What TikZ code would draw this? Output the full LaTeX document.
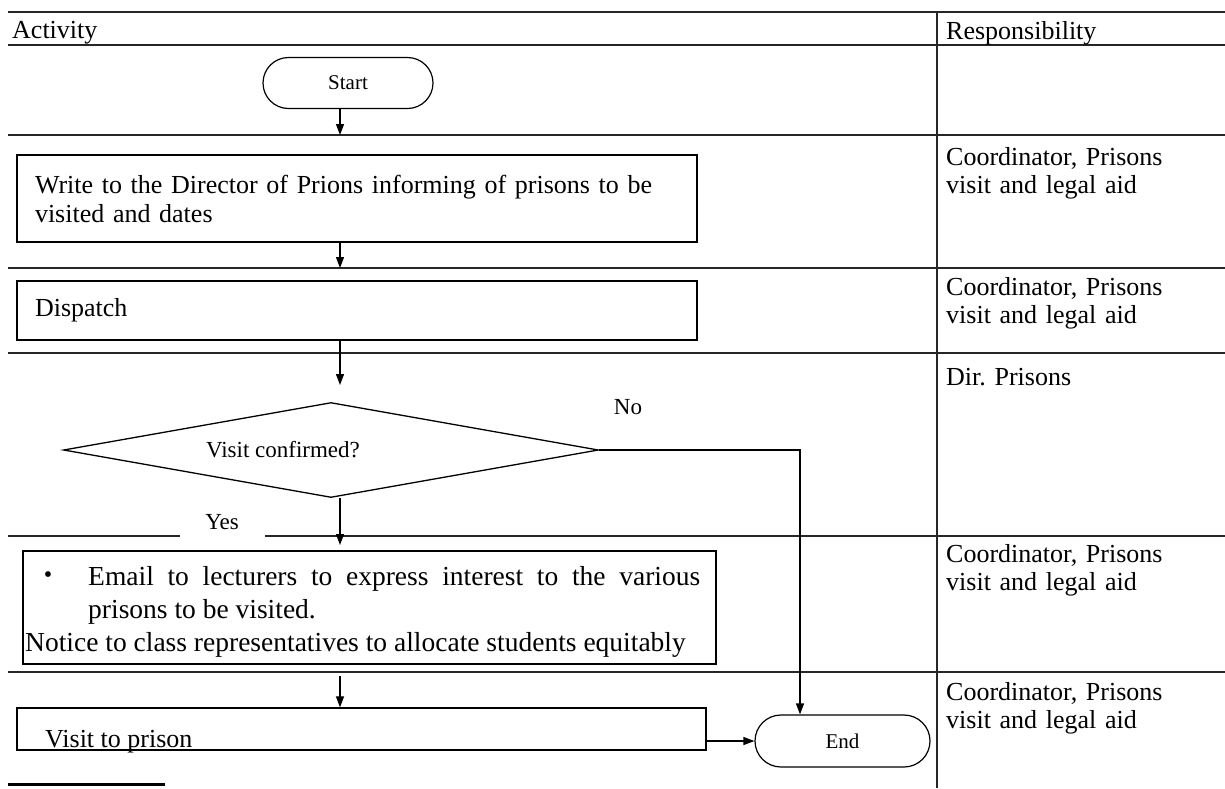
\documentclass[tikz,border=0pt]{standalone}
\usepackage{fontspec}
\setmainfont{Liberation Serif}
\usetikzlibrary{arrows.meta,shapes.geometric,shapes.misc}
\frenchspacing
\begin{document}
\begin{tikzpicture}[x=1pt,y=-1pt,
  every node/.style={font=\fontsize{26}{29}\selectfont, inner sep=0pt},
  grid/.style={line width=1.3pt, draw=black!85},
  box/.style={draw, line width=1.3pt, rectangle, align=left, inner xsep=18pt},
  term/.style={draw, line width=1.2pt, rounded rectangle, minimum width=170pt, minimum height=51pt, font=\fontsize{21}{24}\selectfont},
  arr/.style={line width=1.2pt, -{Triangle[length=11pt,width=8pt]}},
  resp/.style={anchor=base west, text width=270pt, align=left, font=\fontsize{26}{28}\selectfont},
  small/.style={font=\fontsize{23}{26}\selectfont},
  big/.style={font=\fontsize{27.5}{33}\selectfont}
]
\useasboundingbox (0,0) rectangle (1225,788);
% table grid
\draw[grid] (8,12) -- (1225,12);
\draw[grid] (8,45) -- (1225,45);
\draw[grid] (8,135) -- (1225,135);
\draw[grid] (8,268) -- (1225,268);
\draw[grid] (8,353) -- (1225,353);
\draw[grid] (8,536) -- (180,536);
\draw[grid] (265,536) -- (1225,536);
\draw[grid] (8,672) -- (1225,672);
\draw[grid] (937,12) -- (937,788);
\draw[line width=3pt] (8,784) -- (165,784);
% headers
\node[anchor=base west] (hact) at (12,38) {Activity};
\node[anchor=base west] (hresp) at (946,39) {Responsibility};
% responsibilities
\node[resp] (resp1) at (946,165) {Coordinator, Prisons\\visit and legal aid};
\node[resp] (resp2) at (946,295) {Coordinator, Prisons\\visit and legal aid};
\node[resp] (resp3) at (946,385) {Dir. Prisons};
\node[resp] (resp4) at (946,562) {Coordinator, Prisons\\visit and legal aid};
\node[resp] (resp5) at (946,700) {Coordinator, Prisons\\visit and legal aid};
% flow nodes
\node[term] (start) at (348,83) {Start};
\node[box, minimum width=680pt, minimum height=87pt, text width=644pt] (b1) at (357,198.5)
  {Write to the Director of Prions informing of prisons to be\\visited and dates};
\node[box, minimum width=680pt, minimum height=59pt, text width=644pt] (b2) at (357,310.5) {Dispatch};
\node[draw, diamond, line width=1.3pt, minimum width=535pt, minimum height=95pt, inner sep=0pt] (dia) at (331,450) {};
\node[small] (diat) at (283,450) {Visit confirmed?};
\node[small] (no) at (628,407) {No};
\node[small] (yes) at (222,522) {Yes};
\node[draw, line width=1.3pt, minimum width=693pt, minimum height=113pt] (b3) at (369.5,607.5) {};
\node[font=\fontsize{24}{26}\selectfont] (bul) at (48,577) {\textbullet};
\node[big, anchor=base west, text width=612pt, align=justify] (t3a) at (88,585)
  {Email to lecturers to express interest to the various\linebreak prisons to be visited.};
\node[big, anchor=base west] (t3b) at (25,651) {Notice to class representatives to allocate students equitably};
\node[draw, line width=1.3pt, minimum width=689pt, minimum height=42pt] (b4) at (361.5,729) {};
\node[anchor=base west] (t4) at (45,747) {Visit to prison};
\node[term, minimum width=175pt, minimum height=52pt] (end) at (842.5,741) {End};
% connectors
\coordinate (r1) at (340,135);
\coordinate (r2) at (340,268);
\coordinate (r3) at (340,385);
\coordinate (r4) at (340,545);
\coordinate (r5) at (340,676);
\coordinate (nox) at (800,448);
\draw[arr] (start.south -| r1) -- (r1);
\draw[arr] (b1.south -| r2) -- (r2);
\draw[arr] (b2.south -| r3) -- (r3);
\draw[arr] (dia.south -| r4) -- (r4);
\draw[arr] (r5) -- (r5 |- b4.north);
\draw[arr] (dia.east) -- (dia.east -| nox) -- (nox |- end.north);
\draw[arr] (b4.east |- end.west) -- (end.west);
\end{tikzpicture}
\end{document}
